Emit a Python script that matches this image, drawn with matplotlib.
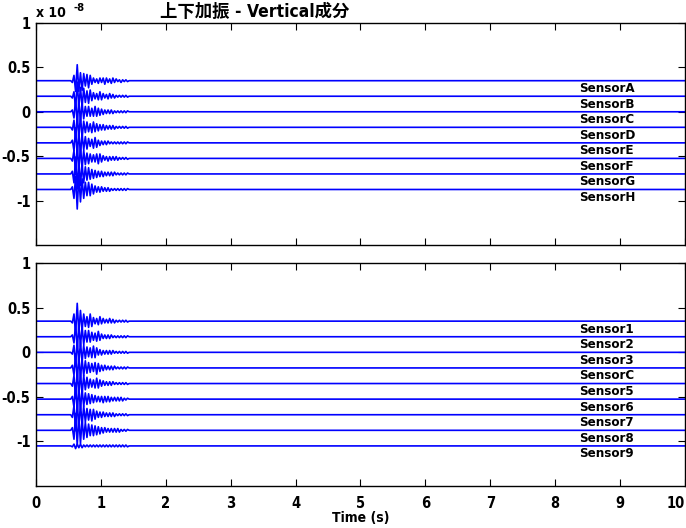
import numpy as np
import matplotlib
matplotlib.use('Agg')
import matplotlib.pyplot as plt

plt.rcParams['font.family'] = ['DejaVu Sans', 'Noto Sans CJK JP']
plt.rcParams['font.stretch'] = 'condensed'
plt.rcParams['font.weight'] = 'bold'
plt.rcParams['axes.labelweight'] = 'bold'

# peak values (x 1e-8), one every 0.025 s from t0
t0, dt = 0.56, 0.025

top_names = ['SensorA', 'SensorB', 'SensorC', 'SensorD', 'SensorE', 'SensorF', 'SensorG', 'SensorH']
top_peaks = [
    [-.02, .06, -.12, .18, -.12, .09, -.11, .08, -.06, .07, -.08, .06, -.04, .03, -.02, .02, -.03, .03, -.02, .03, -.04, .03, -.02, .02, -.03, .03, -.02, .02, -.01, .01, -.02, .01, -.01, .01, -.01],
    [-.02, .05, -.14, .16, -.12, .10, -.12, .09, -.07, .06, -.08, .07, -.05, .04, -.03, .03, -.04, .05, -.04, .03, -.02, .02, -.03, .03, -.02, .02, -.02, .01, -.01, .01, -.01, .01, -.01, .01, -.01],
    [.02, -.07, .15, -.14, .13, -.11, .10, -.08, .06, -.05, .06, -.05, .04, -.05, .06, -.05, .04, -.04, .03, -.03, .02, -.02, .02, -.02, .02, -.02, .01, -.01, .01, -.01, .01, -.01, .01, -.01, .01],
    [-.03, .08, -.16, .15, -.12, .14, -.12, .07, -.06, .06, -.05, .04, -.06, .06, -.05, .04, -.04, .03, -.03, .03, -.03, .02, -.02, .02, -.02, .02, -.02, .01, -.01, .01, -.01, .01, -.01, .01, -.01],
    [.03, -.09, .17, -.15, .13, -.13, .10, -.08, .07, -.07, .05, -.04, .04, -.06, .06, -.05, .03, -.03, .02, -.02, .02, -.02, .02, -.01, .01, -.01, .01, -.01, .01, -.01, .01, -.01, .01, -.01, .01],
    [-.03, .09, -.18, .16, -.14, .14, -.11, .09, -.07, .06, -.06, .05, -.04, .04, -.04, .05, -.06, .05, -.04, .03, -.02, .02, -.03, .02, -.02, .02, -.02, .02, -.02, .01, -.01, .01, -.01, .01, -.01],
    [.03, -.10, .19, -.17, .15, -.13, .12, -.10, .08, -.07, .07, -.06, .05, -.05, .04, -.04, .03, -.03, .03, -.03, .02, -.02, .02, -.02, .02, -.02, .02, -.01, .01, -.01, .01, -.01, .01, -.01, .01],
    [.03, -.10, .15, -.22, .16, -.14, .12, -.10, .08, -.07, .08, -.07, .06, -.05, .04, -.03, .03, -.03, .03, -.02, .02, -.02, .02, -.02, .01, -.01, .01, -.01, .01, -.01, .01, -.01, .01, -.01, .01],
]

bot_names = ['Sensor1', 'Sensor2', 'Sensor3', 'SensorC', 'Sensor5', 'Sensor6', 'Sensor7', 'Sensor8', 'Sensor9']
bot_peaks = [
    [-.02, .08, -.14, .20, -.13, .12, -.10, .08, -.06, .05, -.07, .08, -.06, .04, -.03, .03, -.04, .05, -.03, .03, -.02, .02, -.02, .03, -.02, .02, -.02, .01, -.01, .01, -.01, .01, -.01, .01, -.01],
    [.02, -.07, .15, -.14, .13, -.11, .12, -.09, .07, -.06, .07, -.06, .05, -.04, .04, -.05, .06, -.04, .03, -.02, .02, -.02, .02, -.02, .02, -.01, .01, -.01, .01, -.01, .01, -.01, .01, -.01, .01],
    [-.02, .08, -.16, .15, -.12, .12, -.11, .08, -.07, .06, -.05, .05, -.06, .07, -.06, .05, -.03, .03, -.03, .02, -.02, .02, -.02, .02, -.02, .02, -.01, .01, -.01, .01, -.01, .01, -.01, .01, -.01],
    [.03, -.08, .16, -.15, .14, -.12, .10, -.09, .08, -.06, .06, -.05, .05, -.04, .06, -.07, .05, -.04, .03, -.03, .03, -.02, .02, -.02, .02, -.02, .02, -.01, .01, -.01, .01, -.01, .01, -.01, .01],
    [-.03, .09, -.17, .16, -.13, .13, -.12, .09, -.07, .07, -.05, .05, -.04, .04, -.05, .06, -.05, .04, -.03, .03, -.02, .02, -.02, .02, -.02, .02, -.01, .01, -.01, .01, -.01, .01, -.01, .01, -.01],
    [.03, -.09, .18, -.15, .14, -.12, .11, -.08, .07, -.06, .06, -.05, .05, -.04, .04, -.03, .03, -.03, .03, -.04, .03, -.03, .03, -.03, .02, -.02, .02, -.02, .02, -.02, .02, -.02, .01, -.01, .01],
    [-.03, .10, -.18, .16, -.15, .13, -.12, .10, -.08, .07, -.06, .06, -.07, .06, -.05, .04, -.03, .03, -.03, .03, -.02, .02, -.02, .02, -.02, .02, -.02, .01, -.01, .01, -.01, .01, -.01, .01, -.01],
    [.03, -.10, .19, -.17, .16, -.15, .13, -.10, .09, -.08, .07, -.06, .06, -.06, .05, -.05, .04, -.04, .03, -.03, .03, -.02, .02, -.02, .02, -.02, .02, -.02, .02, -.02, .01, -.01, .01, -.01, .01],
    [-.01, .02, -.03, .02, -.02, .02, -.02, .01, -.01, .01, -.01, .01, -.01, .01, -.01, .01, -.01, .01, -.01, .01, -.01, .01, -.01, .01, -.01, .01, -.01, .01, -.01, .01, -.01, .01, -.01, .01, -.01],
]

# vertical offsets of the traces
offsets = [0.35, 0.175, 0, -0.175, -0.35, -0.525, -0.7, -0.875, -1.05]


def draw_panel(ax, names, peaks):
    for i, (name, v) in enumerate(zip(names, peaks)):
        tp = t0 + dt * np.arange(len(v))
        x = np.concatenate([[0, t0 - dt], tp, [tp[-1] + dt, 10]])
        y = np.concatenate([[0, 0], v, [0, 0]]) + offsets[i]
        ax.plot(x, y, color='b', lw=1.2)
        ax.text(8.37, offsets[i] - 0.09, name, fontsize=9.5, va='center', ha='left')
    ax.set_xlim(0, 10)
    ax.set_ylim(-1.5, 1)
    ax.set_xticks(range(11))
    ax.set_yticks([-1, -0.5, 0, 0.5, 1])
    ax.set_yticklabels(['-1', '-0.5', '0', '0.5', '1'])
    ax.tick_params(direction='in', length=5, width=0.8, top=True, right=True,
                   labelsize=10.5, pad=4)
    ax.tick_params(axis='x', pad=7)
    for s in ax.spines.values():
        s.set_linewidth(1.0)


fig = plt.figure(figsize=(6.86, 5.28), dpi=100)
ax1 = fig.add_axes([0.0525, 0.536, 0.946, 0.4205])
ax2 = fig.add_axes([0.0525, 0.0795, 0.946, 0.422])

draw_panel(ax1, top_names, top_peaks)
draw_panel(ax2, bot_names, bot_peaks)
ax1.set_xticklabels([])
ax2.get_xticklabels()[-1].set_horizontalalignment('right')

ax1.text(0.0, 1.015, 'x 10', transform=ax1.transAxes, fontsize=10, va='bottom')
ax1.text(0.058, 1.045, '-8', transform=ax1.transAxes, fontsize=8, va='bottom')
ax1.text(0.337, 1.01, '上下加振 - Vertical成分', transform=ax1.transAxes,
         fontsize=12.5, ha='center', va='bottom')
ax2.set_xlabel('Time (s)', fontsize=10, labelpad=0)

fig.savefig('out.png', dpi=100)
